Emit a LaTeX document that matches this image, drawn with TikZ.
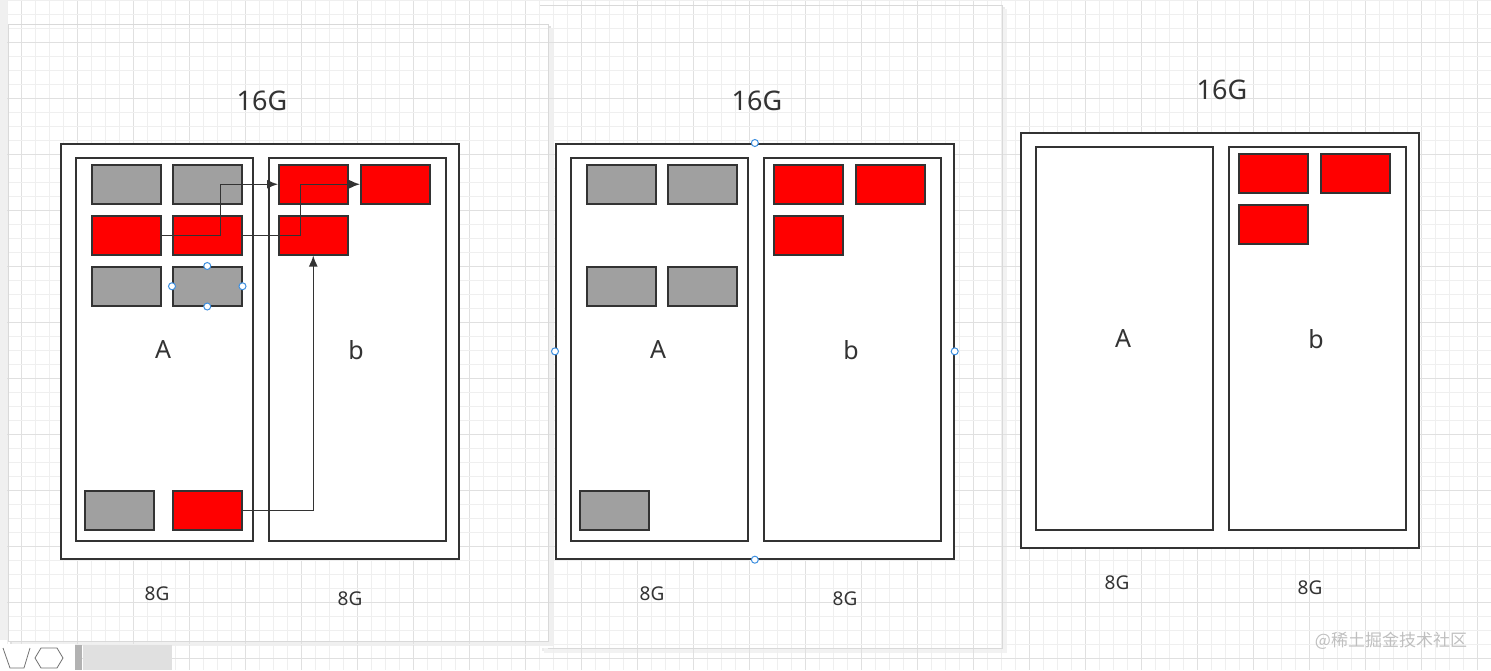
\documentclass[tikz,border=0pt]{standalone}
\usepackage{fontspec}
\setmainfont{Noto Sans}
\newfontfamily\cjk{Noto Sans CJK SC}
\usetikzlibrary{arrows.meta}
\definecolor{ln}{HTML}{333333}
\definecolor{gfill}{HTML}{A0A0A0}
\definecolor{rfill}{HTML}{FF0000}
\definecolor{gridmin}{HTML}{EFEFEF}
\definecolor{gridmaj}{HTML}{E0E0E0}
\definecolor{hdl}{HTML}{3D8FE0}
\tikzset{
  frame/.style={draw=ln, line width=1.7pt, fill=white, inner sep=0, anchor=north west},
  gbox/.style={draw=ln, line width=1.5pt, fill=gfill, inner sep=0, minimum width=69pt, minimum height=39pt, anchor=north west},
  rbox/.style={gbox, fill=rfill},
  big/.style={text=ln, font=\fontsize{27}{30}\selectfont},
  mid/.style={text=ln, font=\fontsize{25}{28}\selectfont},
  small/.style={text=ln, font=\fontsize{19}{22}\selectfont},
  arr/.style={draw=ln, line width=1.5pt, -{Latex[length=11pt,width=9pt]}},
  handle/.style={circle, draw=hdl, fill=white, line width=1pt, minimum size=7pt, inner sep=0},
}
\begin{document}
\begin{tikzpicture}[x=1pt, y=-1pt]
\useasboundingbox (0,0) rectangle (1491,670);
% pages
\fill[black!8] (542,7) rectangle (1005,651);
\fill[black!5] (544,9) rectangle (1007,653);
\fill[white] (540,5) rectangle (1002,648);
\fill[black!12] (10,26) rectangle (551,644);
\fill[black!6] (12,28) rectangle (553,646);
\fill[white] (8,24) rectangle (548,641);
% grid
\foreach \x in {0,...,105} {
  \pgfmathtruncatemacro{\m}{mod(\x,4)}
  \ifnum\m=1 \draw[gridmaj, line width=0.8pt] (7+14*\x,0) -- (7+14*\x,670);
  \else \draw[gridmin, line width=0.8pt] (7+14*\x,0) -- (7+14*\x,670); \fi
}
\foreach \y in {0,...,47} {
  \pgfmathtruncatemacro{\m}{mod(\y,4)}
  \ifnum\m=3 \draw[gridmaj, line width=0.8pt] (0,14*\y) -- (1491,14*\y);
  \else \draw[gridmin, line width=0.8pt] (0,14*\y) -- (1491,14*\y); \fi
}
\draw[black!15, line width=0.6pt] (540,5) -- (1002,5) -- (1002,648) -- (548,648);
\draw[black!15, line width=0.6pt] (8,24) rectangle (548,641);
% UI strips
\fill[black!6] (0,0) rectangle (7,640);
\fill[white] (0,644) rectangle (75,670);
\fill[black!30] (75,645) rectangle (82,670);
\fill[black!12] (83,645) rectangle (172,670);
\draw[black!55, line width=0.8pt] (3,648) -- (10,668) -- (24,668) -- (30,648);
\draw[black!55, line width=0.8pt] (35,658) -- (41,648) -- (57,648) -- (63,658) -- (57,668) -- (41,668) -- cycle;

% ===== diagram 1 =====
\node[big] (t1) at (262,101) {16G};
\node[frame, minimum width=398pt, minimum height=415pt] (o1) at (60,143) {};
\node[frame, minimum width=177pt, minimum height=383pt] (pa1) at (75,157) {};
\node[frame, minimum width=177pt, minimum height=383pt] (pb1) at (268,157) {};
\node[mid] (la1) at (163,350) {A};
\node[mid] (lb1) at (356,350) {b};
\node[gbox] (a11) at (91,164) {};
\node[gbox] (a12) at (172,164) {};
\node[rbox] (a21) at (91,215) {};
\node[rbox] (a22) at (172,215) {};
\node[gbox] (a31) at (91,266) {};
\node[gbox] (a32) at (172,266) {};
\node[gbox] (a41) at (84,490) {};
\node[rbox] (a42) at (172,490) {};
\node[rbox] (b11) at (278,164) {};
\node[rbox] (b12) at (360,164) {};
\node[rbox] (b21) at (278,215) {};
\draw[arr] (a21.east) -- ++(59,0) |- (b11.west);
\draw[arr] (a22.east) -- ++(58,0) |- (b12.west);
\draw[arr] (a42.east) -| (b21.south);
\node[handle] (h1) at (a32.north) {};
\node[handle] (h2) at (a32.south) {};
\node[handle] (h3) at (a32.west) {};
\node[handle] (h4) at (a32.east) {};
\node[small] (s11) at (157,594) {8G};
\node[small] (s12) at (350,599) {8G};

% ===== diagram 2 =====
\begin{scope}[shift={(495,0)}]
\node[big] (t2) at (262,101) {16G};
\node[frame, minimum width=398pt, minimum height=415pt] (o2) at (60,143) {};
\node[frame, minimum width=177pt, minimum height=383pt] (pa2) at (75,157) {};
\node[frame, minimum width=177pt, minimum height=383pt] (pb2) at (268,157) {};
\node[mid] (la2) at (163,350) {A};
\node[mid] (lb2) at (356,350) {b};
\node[gbox] (c11) at (91,164) {};
\node[gbox] (c12) at (172,164) {};
\node[gbox] (c31) at (91,266) {};
\node[gbox] (c32) at (172,266) {};
\node[gbox] (c41) at (84,490) {};
\node[rbox] (d11) at (278,164) {};
\node[rbox] (d12) at (360,164) {};
\node[rbox] (d21) at (278,215) {};
\node[handle] (k1) at (o2.north) {};
\node[handle] (k2) at (o2.south) {};
\node[handle] (k3) at (o2.west) {};
\node[handle] (k4) at (o2.east) {};
\node[small] (s21) at (157,594) {8G};
\node[small] (s22) at (350,599) {8G};
\end{scope}

% ===== diagram 3 =====
\begin{scope}[shift={(960,-11)}]
\node[big] (t3) at (262,101) {16G};
\node[frame, minimum width=398pt, minimum height=415pt] (o3) at (60,143) {};
\node[frame, minimum width=177pt, minimum height=383pt] (pa3) at (75,157) {};
\node[frame, minimum width=177pt, minimum height=383pt] (pb3) at (268,157) {};
\node[mid] (la3) at (163,350) {A};
\node[mid] (lb3) at (356,350) {b};
\node[rbox] (e11) at (278,164) {};
\node[rbox] (e12) at (360,164) {};
\node[rbox] (e21) at (278,215) {};
\node[small] (s31) at (157,594) {8G};
\node[small] (s32) at (350,599) {8G};
\end{scope}

\node[text=black!25, font=\cjk\fontsize{17}{20}\selectfont] (wm) at (1391,641) {@稀土掘金技术社区};
\end{tikzpicture}
\end{document}
